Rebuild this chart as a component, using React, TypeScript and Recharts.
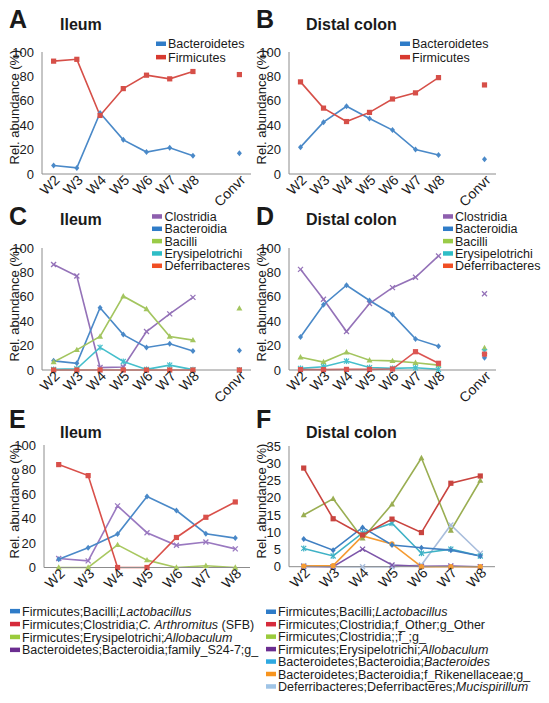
import React from "react";
import { LineChart, Line, XAxis, YAxis } from "recharts";

const FONT = "'Liberation Sans', Arial, Helvetica, sans-serif";
const TEXT = "#1a1a1a";
const AXIS = "#8c8c8c";

// categories
const weeksConvr = ["W2", "W3", "W4", "W5", "W6", "W7", "W8", "", "Convr"];
const weeks = ["W2", "W3", "W4", "W5", "W6", "W7", "W8"];

// A: ileum, phylum level
const ileumBacteroidetes = [7, 5, 50, 28, 18, 21.5, 15, null, 17];
const ileumFirmicutes = [92.5, 94, 48, 70, 81, 78, 84, null, 81.5];

// B: distal colon, phylum level
const colonBacteroidetes = [22, 42.5, 55.5, 45.5, 36, 20, 15.5, null, 12];
const colonFirmicutes = [75.5, 54, 43, 50.5, 61.5, 66.5, 79, null, 73];

// C: ileum, class level
const ileumClostridia = [86.5, 77, 2, 2.5, 31.5, 46, 59.5, null, null];
const ileumBacteroidia = [7.5, 5.5, 51, 29, 18.5, 21.5, 15.5, null, 16];
const ileumBacilli = [6.5, 16.5, 27.5, 60.5, 50, 27.5, 24.5, null, 50.5];
const ileumErysipelotrichi = [0.5, 1, 18.5, 7, 0.5, 4, 0.3, null, 0];
const ileumDeferribacteres = [0, 0, 0, 0, 0, 0, 0, null, 0];

// D: distal colon, class level
const colonClostridia = [82.5, 58, 31.5, 54.5, 67.5, 76, 93.5, null, 62.5];
const colonBacteroidia = [27, 53.5, 69.5, 57, 45.5, 25.5, 19.5, null, 10];
const colonBacilli = [10.5, 6.5, 14.5, 8, 7.5, 6, 4, null, 18];
const colonErysipelotrichi = [1.3, 2.7, 7.3, 2, 1.3, 1.8, 0.5, null, 15];
const colonDeferribacteres = [0.3, 0.3, 0.5, 0.5, 0.8, 15, 5.5, null, 13];

// E: ileum, genus level
const ileumLactobacillus = [6.8, 16.2, 27.3, 58, 46.5, 27.6, 24];
const ileumSFB = [84, 75, 0, 0, 24.5, 41, 53.5];
const ileumAllobaculum = [0, 0, 18.5, 6, 0, 1.4, 0];
const ileumS24_7 = [7.3, 5.4, 50.3, 28.4, 18.1, 20.8, 15.2];

// F: distal colon, genus level
const colonLactobacillus = [8, 4.8, 11.4, 6.3, 5.5, 4.8, 3.1];
const colonClostridiaOther = [28.6, 13.9, 9.2, 13.8, 9.9, 24.2, 26.3];
const colonClostridiaUnassigned = [15, 19.7, 8.2, 18.1, 31.5, 10.5, 25];
const colonAllobaculum = [0.1, 0, 5.1, 0.5, 0.1, 0.2, 0];
const colonBacteroides = [5.3, 3.1, 9.8, 12.6, 3.9, 5.1, 3.1];
const colonRikenellaceae = [0.2, 0.3, 8.9, 6.6, 0, 0, 0];
const colonMucispirillum = [0.3, 0, 0, 0, 0.5, 12.1, 3.9];

const ticks100 = [0, 20, 40, 60, 80, 100];
const ticks35 = [0, 5, 10, 15, 20, 25, 30, 35];

type Shape = "square" | "diamond" | "triangle" | "cross" | "star" | "circle";
type Series = { key: string; color: string; shape: Shape; values: (number | null)[] };

const marker = (shape: Shape, color: string) => (props: any) => {
  const { cx, cy, index } = props;
  const k = `m-${index}`;
  if (cx == null || cy == null || props.value == null) return <g key={k} />;
  switch (shape) {
    case "square":
      return <rect key={k} x={cx - 2.6} y={cy - 2.6} width={5.2} height={5.2} fill={color} />;
    case "diamond":
      return <polygon key={k} points={`${cx},${cy - 3} ${cx + 2.5},${cy} ${cx},${cy + 3} ${cx - 2.5},${cy}`} fill={color} />;
    case "triangle":
      return <polygon key={k} points={`${cx},${cy - 3.2} ${cx + 3},${cy + 2.2} ${cx - 3},${cy + 2.2}`} fill={color} />;
    case "circle":
      return <circle key={k} cx={cx} cy={cy} r={2.6} fill={color} />;
    case "star":
      return (
        <g key={k} stroke={color} strokeWidth={1.2}>
          <line x1={cx - 2.5} y1={cy - 2.5} x2={cx + 2.5} y2={cy + 2.5} />
          <line x1={cx - 2.5} y1={cy + 2.5} x2={cx + 2.5} y2={cy - 2.5} />
          <line x1={cx} y1={cy - 3} x2={cx} y2={cy + 3} />
        </g>
      );
    default:
      return (
        <g key={k} stroke={color} strokeWidth={1.3}>
          <line x1={cx - 2.5} y1={cy - 2.5} x2={cx + 2.5} y2={cy + 2.5} />
          <line x1={cx - 2.5} y1={cy + 2.5} x2={cx + 2.5} y2={cy - 2.5} />
        </g>
      );
  }
};

const WeekTick = (props: any) => {
  const { x, y, payload } = props;
  if (!payload || !payload.value) return <g />;
  const ax = x + 7;
  const ay = y + 7;
  return (
    <text x={ax} y={ay} transform={`rotate(-45 ${ax} ${ay})`} textAnchor="end" fontSize={14} fill={TEXT} fontFamily={FONT}>
      {payload.value}
    </text>
  );
};

type PanelProps = {
  plotLeft: number;
  plotTop: number;
  plotW: number;
  plotH: number;
  categories: string[];
  series: Series[];
  domain: [number, number];
  ticks: number[];
};

const Panel = ({ plotLeft, plotTop, plotW, plotH, categories, series, domain, ticks }: PanelProps) => {
  const rows = categories.map((c, i) => {
    const r: any = { week: c };
    series.forEach((s) => (r[s.key] = s.values[i]));
    return r;
  });
  // half a category band on each side, so points sit in the middle of their slot
  const pad = plotW / categories.length / 2;
  return (
    <div style={{ position: "absolute", left: plotLeft - 40, top: plotTop - 10 }}>
      <LineChart width={plotW + 50} height={plotH + 80} data={rows} margin={{ top: 10, right: 10, left: 10, bottom: 30 }}>
        <XAxis
          dataKey="week"
          interval={0}
          height={40}
          padding={{ left: pad, right: pad }}
          tickLine={false}
          tickSize={0}
          tickMargin={0}
          axisLine={{ stroke: AXIS, strokeWidth: 1 }}
          tick={<WeekTick />}
        />
        <YAxis
          type="number"
          domain={domain}
          ticks={ticks}
          interval={0}
          width={30}
          tickLine={false}
          tickMargin={2}
          axisLine={{ stroke: AXIS, strokeWidth: 1 }}
          tick={{ fontSize: 13, fill: TEXT, fontFamily: FONT }}
        />
        {series.map((s) => (
          <Line
            key={s.key}
            dataKey={s.key}
            stroke={s.color}
            strokeWidth={1.6}
            dot={marker(s.shape, s.color)}
            activeDot={false}
            connectNulls={false}
            isAnimationActive={false}
          />
        ))}
      </LineChart>
    </div>
  );
};

type Part = { t: string; i?: boolean };
type LegendItem = { color: string; parts: Part[] };

const Legend = ({ markerX, textX, baseline, step, items }: { markerX: number; textX: number; baseline: number; step: number; items: LegendItem[] }) => (
  <g>
    {items.map((it, i) => {
      const by = baseline + i * step;
      return (
        <g key={i}>
          <rect x={markerX} y={by - 6.8} width={10} height={4.5} fill={it.color} />
          <text x={textX} y={by} fontSize={12.5} fill={TEXT} fontFamily={FONT}>
            {it.parts.map((p, j) => (
              <tspan key={j} fontStyle={p.i ? "italic" : "normal"}>
                {p.t}
              </tspan>
            ))}
          </text>
        </g>
      );
    })}
  </g>
);

const BLUE = "#4a89c8";
const RED = "#d64f48";
const PURPLE = "#9472b8";
const GREEN = "#a3c55f";
const CYAN = "#45bfcc";

const phylumLegend: LegendItem[] = [
  { color: "#2f7cc8", parts: [{ t: "Bacteroidetes" }] },
  { color: "#d83a30", parts: [{ t: "Firmicutes" }] },
];

const classLegend: LegendItem[] = [
  { color: "#8e5fae", parts: [{ t: "Clostridia" }] },
  { color: "#2f7cc8", parts: [{ t: "Bacteroidia" }] },
  { color: "#9acb48", parts: [{ t: "Bacilli" }] },
  { color: "#2ebdc6", parts: [{ t: "Erysipelotrichi" }] },
  { color: "#f04e23", parts: [{ t: "Deferribacteres" }] },
];

const ileumGenusLegend: LegendItem[] = [
  { color: "#2f7cc8", parts: [{ t: "Firmicutes;Bacilli;" }, { t: "Lactobacillus", i: true }] },
  { color: "#d62b3b", parts: [{ t: "Firmicutes;Clostridia;" }, { t: "C. Arthromitus", i: true }, { t: " (SFB)" }] },
  { color: "#9acb3c", parts: [{ t: "Firmicutes;Erysipelotrichi;" }, { t: "Allobaculum", i: true }] },
  { color: "#6b2d90", parts: [{ t: "Bacteroidetes;Bacteroidia;family_S24-7;g_" }] },
];

const colonGenusLegend: LegendItem[] = [
  { color: "#2f7cc8", parts: [{ t: "Firmicutes;Bacilli;" }, { t: "Lactobacillus", i: true }] },
  { color: "#d62b3b", parts: [{ t: "Firmicutes;Clostridia;f_Other;g_Other" }] },
  { color: "#9acb3c", parts: [{ t: "Firmicutes;Clostridia;;f_;g_" }] },
  { color: "#6b2d90", parts: [{ t: "Firmicutes;Erysipelotrichi;" }, { t: "Allobaculum", i: true }] },
  { color: "#2fa9e1", parts: [{ t: "Bacteroidetes;Bacteroidia;" }, { t: "Bacteroides", i: true }] },
  { color: "#f7941d", parts: [{ t: "Bacteroidetes;Bacteroidia;f_Rikenellaceae;g_" }] },
  { color: "#9fc4e6", parts: [{ t: "Deferribacteres;Deferribacteres;" }, { t: "Mucispirillum", i: true }] },
];

const YLabel = ({ x, cy }: { x: number; cy: number }) => (
  <text x={x} y={cy} transform={`rotate(-90 ${x} ${cy})`} textAnchor="middle" fontSize={13} fill={TEXT} fontFamily={FONT}>
    Rel. abundance (%)
  </text>
);

const Title = ({ x, y, children, size }: { x: number; y: number; children: string; size: number }) => (
  <text x={x} y={y} fontSize={size} fontWeight="bold" fill={TEXT} fontFamily={FONT}>
    {children}
  </text>
);

export default function App() {
  return (
    <div style={{ position: "absolute", left: 0, top: 0, width: 549, height: 703, background: "#fff", fontFamily: FONT, overflow: "hidden" }}>
      <Panel
        plotLeft={42}
        plotTop={52}
        plotW={209}
        plotH={122}
        categories={weeksConvr}
        domain={[0, 100]}
        ticks={ticks100}
        series={[
          { key: "bacteroidetes", color: BLUE, shape: "diamond", values: ileumBacteroidetes },
          { key: "firmicutes", color: RED, shape: "square", values: ileumFirmicutes },
        ]}
      />
      <Panel
        plotLeft={289}
        plotTop={52}
        plotW={207}
        plotH={122}
        categories={weeksConvr}
        domain={[0, 100]}
        ticks={ticks100}
        series={[
          { key: "bacteroidetes", color: BLUE, shape: "diamond", values: colonBacteroidetes },
          { key: "firmicutes", color: RED, shape: "square", values: colonFirmicutes },
        ]}
      />
      <Panel
        plotLeft={42}
        plotTop={248}
        plotW={209}
        plotH={122}
        categories={weeksConvr}
        domain={[0, 100]}
        ticks={ticks100}
        series={[
          { key: "clostridia", color: PURPLE, shape: "cross", values: ileumClostridia },
          { key: "bacteroidia", color: BLUE, shape: "diamond", values: ileumBacteroidia },
          { key: "bacilli", color: GREEN, shape: "triangle", values: ileumBacilli },
          { key: "erysipelotrichi", color: CYAN, shape: "star", values: ileumErysipelotrichi },
          { key: "deferribacteres", color: "#e0574a", shape: "square", values: ileumDeferribacteres },
        ]}
      />
      <Panel
        plotLeft={289}
        plotTop={248}
        plotW={207}
        plotH={122}
        categories={weeksConvr}
        domain={[0, 100]}
        ticks={ticks100}
        series={[
          { key: "clostridia", color: PURPLE, shape: "cross", values: colonClostridia },
          { key: "bacteroidia", color: BLUE, shape: "diamond", values: colonBacteroidia },
          { key: "bacilli", color: GREEN, shape: "triangle", values: colonBacilli },
          { key: "erysipelotrichi", color: CYAN, shape: "star", values: colonErysipelotrichi },
          { key: "deferribacteres", color: "#dc5552", shape: "square", values: colonDeferribacteres },
        ]}
      />
      <Panel
        plotLeft={44}
        plotTop={445}
        plotW={206}
        plotH={122.5}
        categories={weeks}
        domain={[0, 100]}
        ticks={ticks100}
        series={[
          { key: "s24", color: "#9a79c0", shape: "cross", values: ileumS24_7 },
          { key: "allobaculum", color: "#a8c860", shape: "triangle", values: ileumAllobaculum },
          { key: "lactobacillus", color: BLUE, shape: "diamond", values: ileumLactobacillus },
          { key: "sfb", color: "#d9504a", shape: "square", values: ileumSFB },
        ]}
      />
      <Panel
        plotLeft={289}
        plotTop={446}
        plotW={206}
        plotH={120.7}
        categories={weeks}
        domain={[0, 35]}
        ticks={ticks35}
        series={[
          { key: "mucispirillum", color: "#a8bddc", shape: "cross", values: colonMucispirillum },
          { key: "allobaculum", color: "#7d55a9", shape: "cross", values: colonAllobaculum },
          { key: "rikenellaceae", color: "#f59b32", shape: "circle", values: colonRikenellaceae },
          { key: "bacteroides", color: "#3fb2c6", shape: "star", values: colonBacteroides },
          { key: "lactobacillus", color: "#3f7fc2", shape: "diamond", values: colonLactobacillus },
          { key: "unassigned", color: "#9aae52", shape: "triangle", values: colonClostridiaUnassigned },
          { key: "other", color: "#c9443f", shape: "square", values: colonClostridiaOther },
        ]}
      />
      <svg width={549} height={703} style={{ position: "absolute", left: 0, top: 0, pointerEvents: "none" }}>
        <Title x={9} y={28} size={25}>A</Title>
        <Title x={256} y={28} size={25}>B</Title>
        <Title x={9} y={225} size={25}>C</Title>
        <Title x={256} y={225} size={25}>D</Title>
        <Title x={9} y={428} size={25}>E</Title>
        <Title x={256} y={428} size={25}>F</Title>

        <Title x={60} y={30} size={16}>Ileum</Title>
        <Title x={306} y={30} size={16}>Distal colon</Title>
        <Title x={60} y={225} size={16}>Ileum</Title>
        <Title x={306} y={225} size={16}>Distal colon</Title>
        <Title x={60} y={438} size={16}>Ileum</Title>
        <Title x={306} y={438} size={16}>Distal colon</Title>

        <YLabel x={19} cy={107} />
        <YLabel x={265.5} cy={107} />
        <YLabel x={19} cy={304} />
        <YLabel x={265.5} cy={304} />
        <YLabel x={19} cy={501} />
        <YLabel x={265.5} cy={501} />

        <Legend markerX={156} textX={168} baseline={48.3} step={13.4} items={phylumLegend} />
        <Legend markerX={400} textX={412} baseline={48.3} step={13.4} items={phylumLegend} />
        <Legend markerX={152} textX={164.5} baseline={221} step={12.33} items={classLegend} />
        <Legend markerX={443} textX={455} baseline={221} step={12.33} items={classLegend} />
        <Legend markerX={10} textX={22} baseline={615.7} step={12.9} items={ileumGenusLegend} />
        <Legend markerX={266} textX={278} baseline={616.3} step={12.45} items={colonGenusLegend} />
      </svg>
    </div>
  );
}
